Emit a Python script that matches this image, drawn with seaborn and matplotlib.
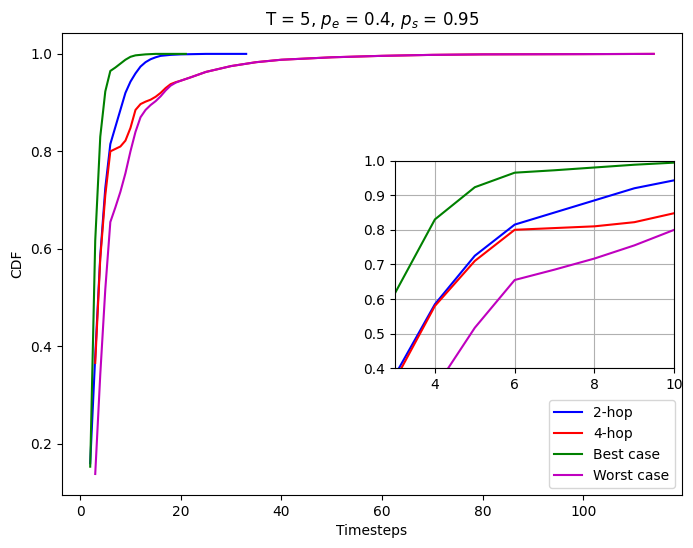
import numpy as np
import pandas as pd
import matplotlib
matplotlib.use("Agg")
import matplotlib.pyplot as plt
import seaborn as sns

# timesteps / CDF values
t_2hop = [2, 3, 4, 5, 6, 7, 8, 9, 10, 11, 12, 13, 14, 15, 16, 17, 18, 20, 25, 33]
cdf_2hop = [0.16, 0.38, 0.585, 0.725, 0.815, 0.85, 0.885, 0.92, 0.943, 0.96, 0.974,
            0.983, 0.989, 0.993, 0.996, 0.997, 0.998, 0.999, 1.0, 1.0]

t_4hop = [3, 4, 5, 6, 7, 8, 9, 10, 11, 12, 13, 14, 15, 16, 17, 18, 19, 20, 22, 25,
          30, 35, 40, 50, 60, 70, 80, 100, 114]
cdf_4hop = [0.366, 0.58, 0.71, 0.80, 0.805, 0.81, 0.822, 0.848, 0.885, 0.897, 0.902,
            0.906, 0.912, 0.92, 0.93, 0.938, 0.942, 0.945, 0.952, 0.963,
            0.975, 0.983, 0.988, 0.993, 0.996, 0.998, 0.999, 0.9995, 1.0]

t_best = [2, 3, 4, 5, 6, 7, 8, 9, 10, 11, 12, 13, 15, 21]
cdf_best = [0.153, 0.617, 0.83, 0.923, 0.965, 0.972, 0.98, 0.988, 0.994, 0.997,
            0.998, 0.999, 1.0, 1.0]

t_worst = [3, 4, 5, 6, 7, 8, 9, 10, 11, 12, 13, 14, 15, 16, 17, 18, 19, 20, 22, 25,
           30, 35, 40, 50, 60, 70, 80, 100, 114]
cdf_worst = [0.138, 0.342, 0.517, 0.655, 0.685, 0.717, 0.755, 0.80, 0.84, 0.87, 0.885,
             0.895, 0.903, 0.913, 0.925, 0.935, 0.941, 0.945, 0.952, 0.963,
             0.975, 0.983, 0.988, 0.993, 0.996, 0.998, 0.999, 0.9995, 1.0]

series = [("2-hop", t_2hop, cdf_2hop, "b"),
          ("4-hop", t_4hop, cdf_4hop, "r"),
          ("Best case", t_best, cdf_best, "g"),
          ("Worst case", t_worst, cdf_worst, "m")]

fig = plt.figure(figsize=(6.93, 5.48), dpi=100)
ax = fig.add_axes([0.0895, 0.0967, 0.8945, 0.8433])

for name, t, c, col in series:
    sns.lineplot(x=t, y=c, color=col, label=name, ax=ax)

ax.set_xlabel("Timesteps")
ax.set_ylabel("CDF")
ax.set_title("T = 5, $p_e$ = 0.4, $p_s$ = 0.95")
ax.legend(loc="lower right")

# zoomed inset
axins = fig.add_axes([0.570, 0.328, 0.403, 0.379])
for name, t, c, col in series:
    sns.lineplot(x=t, y=c, color=col, legend=False, ax=axins)
axins.set_xlim(3, 10)
axins.set_ylim(0.4, 1.0)
axins.set_xticks([4, 6, 8, 10])
axins.set_yticks(np.arange(0.4, 1.01, 0.1))
axins.grid(True)

fig.savefig("out.png", dpi=100)
